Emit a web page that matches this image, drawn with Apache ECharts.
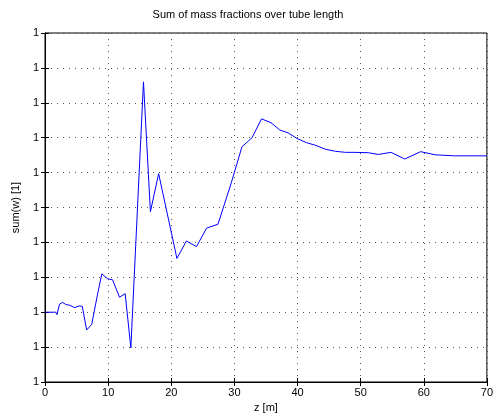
<!DOCTYPE html>
<html><head><meta charset="utf-8">
<script src="https://cdn.jsdelivr.net/npm/echarts@6/dist/echarts.min.js"></script>
<style>html,body{margin:0;padding:0;background:#fff}#c{width:496px;height:419px}</style>
</head><body><div id="c"></div>
<script>
const zValues = [0,1.7,1.9,2.3,2.8,3.3,3.9,4.7,5.4,5.9,6.6,7.4,8.3,9.0,9.9,10.7,11.8,12.7,13.6,15.6,16.7,18.0,20.9,22.4,24.0,25.6,27.4,29.5,31.2,32.8,34.3,35.8,37.2,38.5,39.9,41.4,42.9,44.4,46.0,47.6,49.1,51.2,52.8,54.8,57.0,59.5,61.8,64.9,70];
const sumW = [2.0,2.0,1.93,2.23,2.28,2.22,2.2,2.13,2.18,2.17,1.49,1.65,2.49,3.1,2.96,2.93,2.43,2.53,0.98,8.6,4.88,5.97,3.54,4.04,3.88,4.41,4.52,5.7,6.74,7.0,7.54,7.43,7.22,7.14,6.98,6.86,6.78,6.67,6.61,6.58,6.58,6.57,6.52,6.58,6.39,6.6,6.51,6.48,6.48];
const xTicks = [0,10,20,30,40,50,60,70];
const yTickLabel = '1';
const titleText = 'Sum of mass fractions over tube length';
const xName = 'z [m]';
const yName = 'sum(w) [1]';

const font = 'Liberation Sans, Arial, Helvetica, sans-serif';
const chart = echarts.init(document.getElementById('c'), null, {renderer:'canvas'});
const data = zValues.map((z,i)=>[z,sumW[i]]);
const split = {show:true, lineStyle:{color:'#555', type:[1,5], width:1}};
chart.setOption({
  animation:false,
  backgroundColor:'#fff',
  title:{text:titleText, left:'center', top:4, textStyle:{fontFamily:font, fontSize:11, fontWeight:'normal', color:'#000'}},
  grid:{left:45, right:7, top:33, bottom:37, show:true, borderColor:'#000', borderWidth:1},
  xAxis:[
    {type:'value', min:xTicks[0], max:xTicks[xTicks.length-1], interval:10, position:'bottom',
     name:xName, nameLocation:'middle', nameGap:19, nameTextStyle:{fontFamily:font, fontSize:11, color:'#000'},
     axisLine:{show:true, lineStyle:{color:'#000'}}, axisTick:{show:true, inside:true, length:4, lineStyle:{color:'#000'}},
     axisLabel:{fontFamily:font, fontSize:11, color:'#000', margin:5}, splitLine:split},
    {type:'value', min:0, max:70, interval:10, position:'top',
     axisLine:{show:true, lineStyle:{color:'#000'}}, axisTick:{show:true, inside:true, length:4, lineStyle:{color:'#000'}},
     axisLabel:{show:false}, splitLine:{show:false}}
  ],
  yAxis:[
    {type:'value', min:0, max:10, interval:1, position:'left',
     name:yName, nameLocation:'middle', nameGap:24, nameRotate:90, nameTextStyle:{fontFamily:font, fontSize:11, color:'#000'},
     axisLine:{show:true, lineStyle:{color:'#000'}}, axisTick:{show:true, inside:true, length:4, lineStyle:{color:'#000'}},
     axisLabel:{fontFamily:font, fontSize:11, color:'#000', margin:6, formatter:()=>yTickLabel}, splitLine:split},
    {type:'value', min:0, max:10, interval:1, position:'right',
     axisLine:{show:true, lineStyle:{color:'#000'}}, axisTick:{show:true, inside:true, length:4, lineStyle:{color:'#000'}},
     axisLabel:{show:false}, splitLine:{show:false}}
  ],
  series:[{type:'line', data:data, xAxisIndex:0, yAxisIndex:0, showSymbol:false, symbol:'none',
    lineStyle:{color:'#0000ff', width:1}, itemStyle:{color:'#0000ff'}}]
});
</script></body></html>
